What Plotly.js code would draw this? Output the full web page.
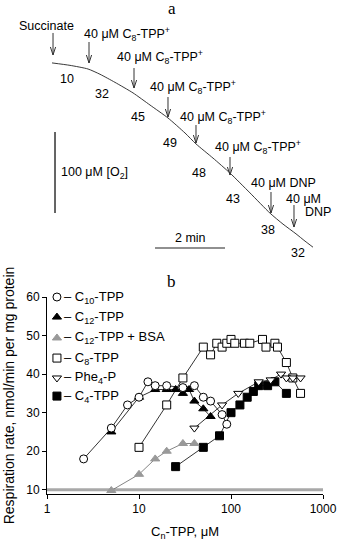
<!DOCTYPE html>
<html><head><meta charset="utf-8">
<script src="https://cdn.plot.ly/plotly-3.0.1.min.js"></script>
<style>html,body{margin:0;padding:0;background:#fff}#chart{width:343px;height:541px}</style>
</head><body><div id="chart"></div>
<script>
// ---------- Panel b: respiration rate vs concentration ----------
const c10X = [2.5, 5, 7.5, 10, 12.5, 15, 20, 30, 40, 50, 60, 80, 90];
const c10Y = [18, 26, 32, 34, 38, 37, 37, 36.5, 37, 34, 33, 29.5, 27];
const c12X = [5, 10, 15, 20, 25, 30, 35, 40, 50, 60];
const c12Y = [25, 34, 36, 36, 36, 35, 36, 33, 31, 29];
const c12bsaX = [5, 10, 15, 20, 30, 40];
const c12bsaY = [9.8, 14, 18, 20, 22, 22];
const c8X = [10, 20, 30, 50, 60, 70, 80, 90, 100, 110, 140, 160, 220, 240, 300, 320, 400, 470, 570];
const c8Y = [21, 32, 39, 47, 45, 48, 47, 48, 49, 48, 48, 48, 49, 47, 48, 47, 43, 39, 35];
const pheX = [40, 80, 120, 200, 270, 350, 400, 470, 570];
const pheY = [26, 32, 35, 38, 38.5, 40, 39, 39, 39];
const c4X = [25, 50, 75, 100, 125, 150, 175, 200, 250, 300, 400];
const c4Y = [16, 21, 24, 30, 32, 34, 35.5, 37, 37, 38, 35];
const baselineX = [1, 1000];
const baselineY = [10, 10];
const legendNames = ['– C<sub>10</sub>-TPP', '– C<sub>12</sub>-TPP', '– C<sub>12</sub>-TPP + BSA',
                     '– C<sub>8</sub>-TPP', '– Phe<sub>4</sub>-P', '– C<sub>4</sub>-TPP'];
const xTickVals = [1, 10, 100, 1000];
const xTickText = ['1', '10', '100', '1000'];
const yTickVals = [10, 20, 30, 40, 50, 60];

// ---------- Panel a: oxygen trace ----------
const traceT  = [0, 0.514, 1.029, 1.371, 1.8, 2.314, 2.8, 3.314, 3.8, 4.114, 4.6, 5.086, 5.657, 6.229, 6.6, 6.971, 7.229, 7.457];
const traceO2 = [250, 247, 242.5, 236, 226, 213, 198, 182, 163.5, 150, 132.5, 114, 89.5, 64.5, 51, 39, 30, 22.5];
const addT = [0.029, 1.057, 2.343, 3.314, 4.114, 5.086, 6.257, 6.914];
const addTipO2 = [259.8, 249.9, 219.0, 183.2, 151.1, 111.6, 64.7, 47.4];
const addLen = [22, 21, 20, 20, 18, 18, 21, 22];
const addLabels = ['Succinate', '40 μM C<sub>8</sub>-TPP<sup>+</sup>', '40 μM C<sub>8</sub>-TPP<sup>+</sup>',
  '40 μM C<sub>8</sub>-TPP<sup>+</sup>', '40 μM C<sub>8</sub>-TPP<sup>+</sup>', '40 μM C<sub>8</sub>-TPP<sup>+</sup>',
  '40 μM DNP', '40 μM'];
const rates = ['10', '32', '45', '49', '48', '43', '38', '32'];
const rateT  = [0.429, 1.429, 2.457, 3.371, 4.2, 5.171, 6.171, 7.029];
const rateO2 = [230.1, 211.6, 183.2, 151.1, 114.1, 82, 43.7, 15.3];
const scaleMin = 2, scaleO2 = 100;

const FONT = 'Liberation Sans, Arial, sans-serif';
const traces = [];
traces.push({x: baselineX, y: baselineY, mode: 'lines', line: {color: '#a8a8a8', width: 3}, hoverinfo: 'skip', showlegend: false});

function series(x, y, sym, fill, lineCol, edge) {
  return {x, y, mode: 'lines+markers', showlegend: false, cliponaxis: false,
    line: {color: lineCol, width: 0.8},
    marker: {symbol: sym, size: 8, color: fill, line: {color: edge, width: 1}}};
}
const specs = [
  [c8X, c8Y, 'square', '#ffffff', '#000', '#000'],
  [c4X, c4Y, 'square', '#000000', '#000', '#000'],
  [pheX, pheY, 'triangle-down', '#ffffff', '#000', '#000'],
  [c12bsaX, c12bsaY, 'triangle-up', '#999999', '#666', '#999999'],
  [c12X, c12Y, 'triangle-up', '#000000', '#000', '#000'],
  [c10X, c10Y, 'circle', '#ffffff', '#000', '#000']
];
specs.forEach(s => traces.push(series(...s)));

// legend glyphs on hidden helper axes
const legSym = ['circle', 'triangle-up', 'triangle-up', 'square', 'triangle-down', 'square'];
const legFill = ['#fff', '#000', '#999', '#fff', '#fff', '#000'];
const legEdge = ['#000', '#000', '#999', '#000', '#000', '#000'];
const legX = [0.036, 0.036, 0.036, 0.036, 0.036, 0.036];
const legY = [1.0, 0.898, 0.792, 0.690, 0.589, 0.497];
traces.push({x: legX, y: legY, xaxis: 'x3', yaxis: 'y3', mode: 'markers', showlegend: false, cliponaxis: false,
  marker: {symbol: legSym, size: 8, color: legFill, line: {color: legEdge, width: 1}}});

// panel a trace
traces.push({x: traceT, y: traceO2, xaxis: 'x2', yaxis: 'y2', mode: 'lines', showlegend: false,
  line: {color: '#222', width: 0.9, shape: 'spline', smoothing: 0.6}});
// scale bars
traces.push({x: [0.086, 0.086], y: [64.7, 64.7 + scaleO2], xaxis: 'x2', yaxis: 'y2', mode: 'lines', showlegend: false,
  line: {color: '#333', width: 1.5}});
traces.push({x: [2.943, 2.943 + scaleMin], y: [21.5, 21.5], xaxis: 'x2', yaxis: 'y2', mode: 'lines', showlegend: false,
  line: {color: '#222', width: 1.2}});

const annotations = [];
const shapes = [];
const labShiftX = [-7, -7, -19, -20, -18, -17, -22, 9.5];
const labAnchor = ['center', 'left', 'left', 'left', 'left', 'left', 'left', 'center'];
const labShiftY = [29, 29, 31, 30, 26, 28, 30, 28];
addT.forEach((t, i) => {
  shapes.push({type: 'path', xref: 'x2', yref: 'y2', xsizemode: 'pixel', ysizemode: 'pixel',
    xanchor: t, yanchor: addTipO2[i],
    path: `M0,0 L0,${addLen[i]} M-2.6,8 L0,0 L2.6,8`, line: {color: '#333', width: 1}});
  annotations.push({xref: 'x2', yref: 'y2', x: t, y: addTipO2[i], text: addLabels[i], showarrow: false,
    xanchor: labAnchor[i], yanchor: 'middle', xshift: labShiftX[i], yshift: labShiftY[i], font: {size: 12.5}});
});
annotations.push({xref: 'x2', yref: 'y2', x: addT[7], y: addTipO2[7], text: 'DNP', showarrow: false,
  xanchor: 'center', yanchor: 'middle', xshift: 24.5, yshift: 15, font: {size: 12.5}});
rates.forEach((r, i) => annotations.push({xref: 'x2', yref: 'y2', x: rateT[i], y: rateO2[i], text: r, showarrow: false,
  xanchor: 'center', yanchor: 'middle', font: {size: 12.5}}));
annotations.push({xref: 'x2', yref: 'y2', x: 0.2, y: 114.1, text: '100 μM [O<sub>2</sub>]', showarrow: false,
  xanchor: 'left', yanchor: 'middle', font: {size: 12.5}});
annotations.push({xref: 'x2', yref: 'y2', x: 3.943, y: 33.9, text: '2 min', showarrow: false,
  xanchor: 'center', yanchor: 'middle', font: {size: 12.5}});
legendNames.forEach((n, i) => annotations.push({xref: 'x3', yref: 'y3', x: legX[i], y: legY[i], text: n, showarrow: false,
  xanchor: 'left', yanchor: 'middle', xshift: 5, font: {size: 13}}));
annotations.push({xref: 'paper', yref: 'paper', x: (172 - 47) / 276, y: (541 - 9) / 541, text: 'a', showarrow: false,
  xanchor: 'center', yanchor: 'middle', font: {family: 'Liberation Serif, Times New Roman, serif', size: 17}});
annotations.push({xref: 'paper', yref: 'paper', x: (171 - 47) / 276, y: (541 - 281) / 541, text: 'b', showarrow: false,
  xanchor: 'center', yanchor: 'middle', font: {family: 'Liberation Serif, Times New Roman, serif', size: 17}});

const layout = {
  width: 343, height: 541, margin: {l: 47, r: 20, t: 0, b: 0},
  paper_bgcolor: '#fff', plot_bgcolor: 'rgba(0,0,0,0)',
  font: {family: FONT, size: 12, color: '#000'},
  showlegend: false,
  xaxis: {type: 'log', range: [0, 3], domain: [0, 1], anchor: 'y', showline: true, linecolor: '#000', linewidth: 1,
    ticks: 'outside', ticklen: 4, tickcolor: '#000', tickvals: xTickVals, ticktext: xTickText,
    showgrid: false, zeroline: false, tickfont: {size: 12},
    title: {text: 'C<sub>n</sub>-TPP, μM', font: {size: 13}, standoff: 17}},
  yaxis: {range: [8.9, 60], domain: [47 / 541, 244 / 541], anchor: 'x', showline: true, linecolor: '#000', linewidth: 1,
    ticks: 'outside', ticklen: 4, tickcolor: '#000', tickvals: yTickVals, showgrid: false, zeroline: false,
    tickfont: {size: 12},
    title: {text: 'Respiration rate, nmol/min per mg protein', font: {size: 14}, standoff: 8}},
  xaxis2: {domain: [0, 1], anchor: 'y2', range: [-5 / 35, 271 / 35], visible: false},
  yaxis2: {domain: [261 / 541, 1], anchor: 'x2', range: [-18, 280 / 0.81 - 18], visible: false},
  xaxis3: {domain: [0, 1], anchor: 'y3', range: [0, 1], visible: false},
  yaxis3: {domain: [47 / 541, 244 / 541], anchor: 'x3', range: [0, 1], visible: false},
  annotations, shapes
};
Plotly.newPlot('chart', traces, layout, {displayModeBar: false, staticPlot: true});
</script></body></html>
